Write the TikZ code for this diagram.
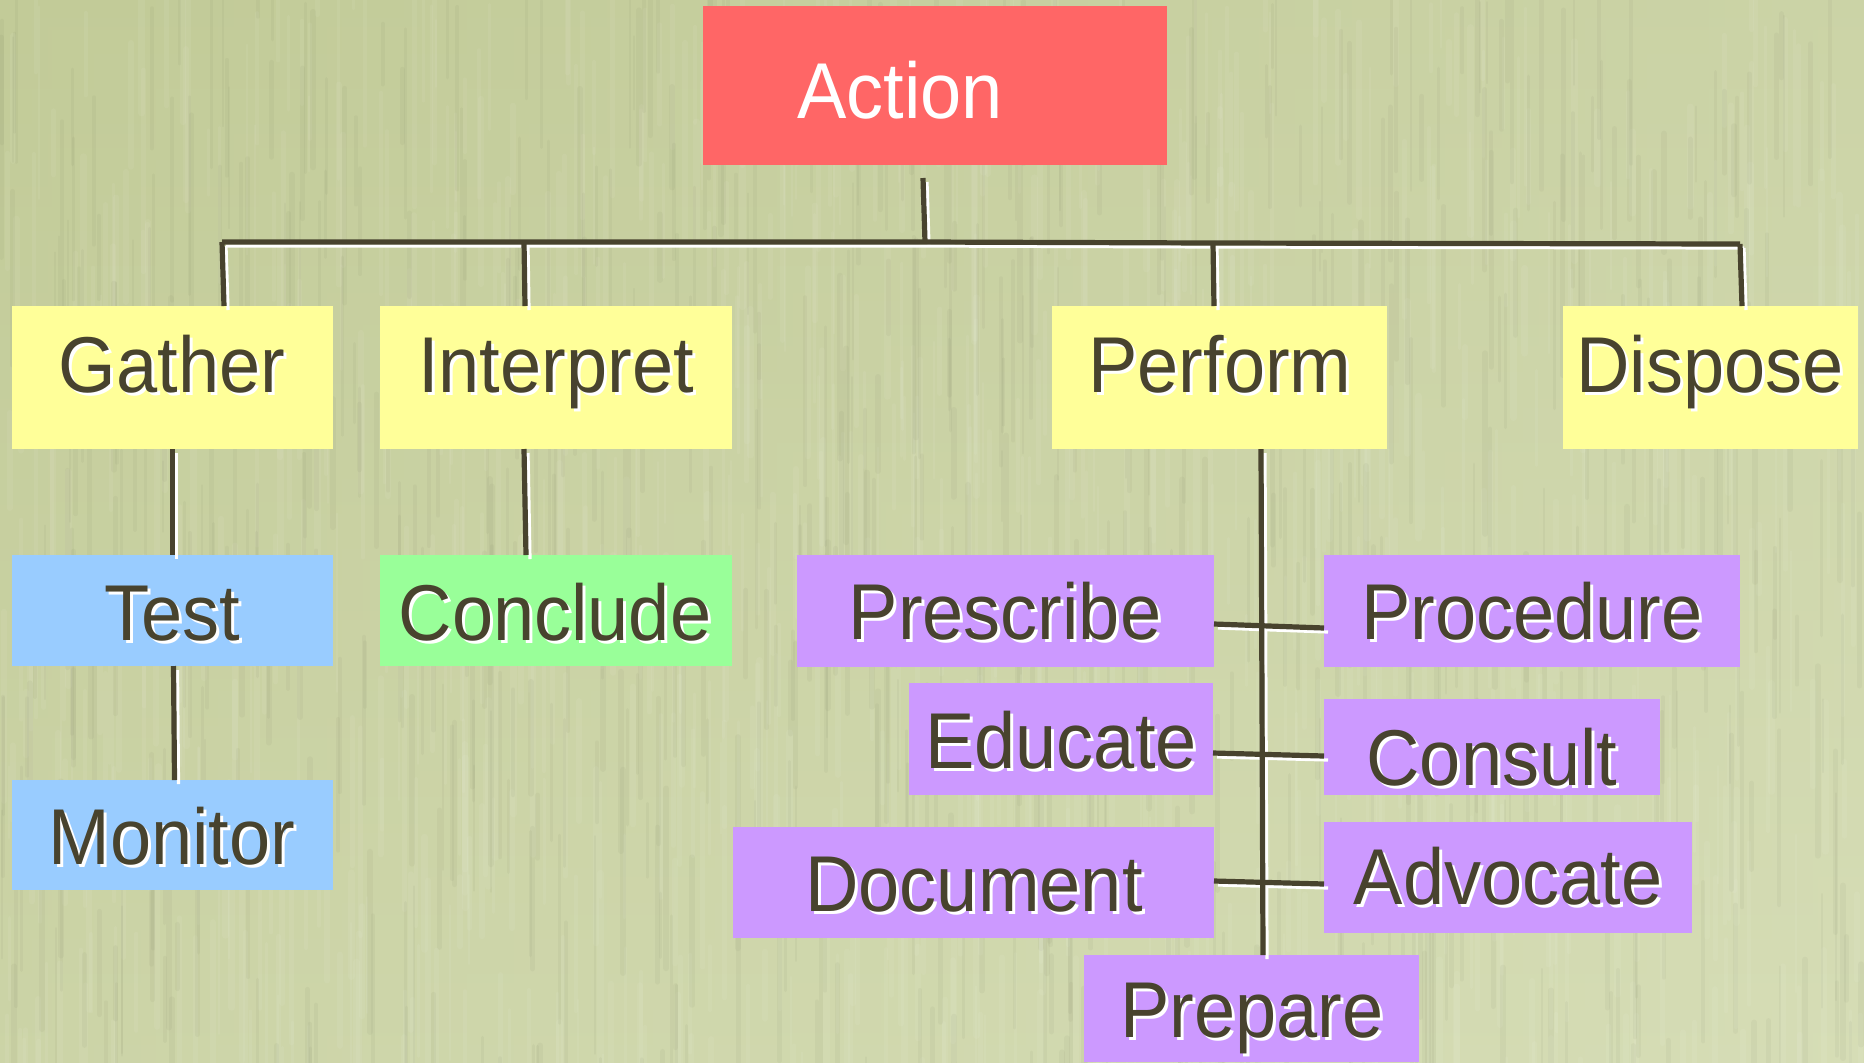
\documentclass[tikz,border=0pt]{standalone}
\usepackage{fontspec}
\setmainfont{Liberation Sans}
\usetikzlibrary{fit}
\definecolor{bgA}{HTML}{C2CB98}
\definecolor{bgB}{HTML}{D6DDB6}
\definecolor{ink}{HTML}{48432E}
\definecolor{redbox}{HTML}{FF6666}
\definecolor{ylwbox}{HTML}{FFFF99}
\definecolor{bluebox}{HTML}{99CCFF}
\definecolor{grnbox}{HTML}{99FF99}
\definecolor{purbox}{HTML}{CC99FF}
\tikzset{
  box/.style={rectangle, draw=none, inner sep=0pt, outer sep=0pt},
  lbl/.style={anchor=base, inner sep=0pt, outer sep=0pt, font=\fontsize{37}{40}\selectfont, text=ink},
  shd/.style={lbl, text=white, xshift=1.5pt, yshift=-1.5pt},
  inkline/.style={draw=ink, line width=2.6pt},
  glintline/.style={draw=white, line width=1.6pt, transform canvas={shift={(2pt,-2pt)}}},
}
\newcommand\mkbox[4]{\node[box, fill=#2, fit={#3 #4}] (#1) {};}
\newcommand\mklbl[3]{%
  \node[shd] at #2 {\scalebox{1}[1.07]{#3}};
  \node[lbl] (#1) at #2 {\scalebox{1}[1.07]{#3}};}
\newcommand\wires[1]{%
  \draw[#1] (a0) -- (a1);
  \draw[#1] (bL) -- (jI) -- (a1) -- (jP) -- (bR);
  \draw[#1] (bL) -- ([xshift=1pt]bL |- gather.north);
  \draw[#1] (jI) -- ([xshift=0.5pt]jI |- interp.north);
  \draw[#1] (jP) -- ([xshift=0.5pt]jP |- perform.north);
  \draw[#1] (bR) -- ([xshift=1pt]bR |- dispose.north);
  \draw[#1] (gather.south) -- (test.north);
  \draw[#1] ([xshift=0.5pt]test.south) -- ([xshift=1pt]monitor.north);
  \draw[#1] (interp.south -| jI) -- ([xshift=1pt]conclude.north -| jI);
  \draw[#1] (perform.south -| pv) -- ([xshift=1pt]prepare.north -| pv);
  \draw[#1] (prescribe.east |- 0,624) -- (procedure.west |- 0,628);
  \draw[#1] (educate.east |- 0,753) -- (consult.west |- 0,756);
  \draw[#1] (document.east |- 0,881) -- (advocate.west |- 0,884);
}
\begin{document}
\begin{tikzpicture}[x=0.5pt, y=-0.5pt]
  \useasboundingbox (0,0) rectangle (1864,1062);
  % background
  \shade[left color=bgA, right color=bgB] (0,0) rectangle (1864,1062);
  \shade[top color=bgA, bottom color=bgB, opacity=0.5] (0,0) rectangle (1864,1062);
  \pgfmathsetseed{7}
  \foreach \i in {1,...,900}{
    \pgfmathsetmacro\xx{rnd*1864}
    \pgfmathsetmacro\yy{-60+rnd*1120}
    \pgfmathsetmacro\ll{60+rnd*160}
    \pgfmathsetmacro\ww{1+rnd*2.5}
    \draw[white, opacity=0.06, line width=\ww pt, line cap=round] (\xx,\yy) -- ++(0,\ll);
  }
  \foreach \i in {1,...,700}{
    \pgfmathsetmacro\xx{rnd*1864}
    \pgfmathsetmacro\yy{-60+rnd*1120}
    \pgfmathsetmacro\ll{60+rnd*160}
    \pgfmathsetmacro\ww{1+rnd*2}
    \draw[black!55!bgA, opacity=0.05, line width=\ww pt, line cap=round] (\xx,\yy) -- ++(0,\ll);
  }
  % boxes
  \mkbox{action}{redbox}{(703,6)}{(1167,165)}
  \mkbox{gather}{ylwbox}{(12,306)}{(333,449)}
  \mkbox{interp}{ylwbox}{(380,306)}{(732,449)}
  \mkbox{perform}{ylwbox}{(1052,306)}{(1387,449)}
  \mkbox{dispose}{ylwbox}{(1563,306)}{(1858,449)}
  \mkbox{test}{bluebox}{(12,555)}{(333,666)}
  \mkbox{monitor}{bluebox}{(12,780)}{(333,890)}
  \mkbox{conclude}{grnbox}{(380,555)}{(732,666)}
  \mkbox{prescribe}{purbox}{(797,555)}{(1214,667)}
  \mkbox{procedure}{purbox}{(1324,555)}{(1740,667)}
  \mkbox{educate}{purbox}{(909,683)}{(1213,795)}
  \mkbox{consult}{purbox}{(1324,699)}{(1660,795)}
  \mkbox{document}{purbox}{(733,827)}{(1214,938)}
  \mkbox{advocate}{purbox}{(1324,822)}{(1692,933)}
  \mkbox{prepare}{purbox}{(1084,955)}{(1419,1062)}
  % junction coordinates
  \coordinate (a0) at (923,178);
  \coordinate (a1) at (925,242);
  \coordinate (bL) at (222,242);
  \coordinate (jI) at (524,242);
  \coordinate (jP) at (1213,243);
  \coordinate (bR) at (1740,244);
  \coordinate (pv) at (1261,0);
  % connectors
  \wires{glintline}
  \wires{inkline}
  % labels
  \node[lbl, text=white] (tAction) at (900,118) {\scalebox{1}[1.07]{Action}};
  \mklbl{tGather}{(172,392)}{Gather}
  \mklbl{tInterp}{(556,392)}{Interpret}
  \mklbl{tPerform}{(1220,392)}{Perform}
  \mklbl{tDispose}{(1710,392)}{Dispose}
  \mklbl{tTest}{(172,640)}{Test}
  \mklbl{tConclude}{(555,640)}{Conclude}
  \mklbl{tMonitor}{(172,864)}{Monitor}
  \mklbl{tPrescribe}{(1005,639)}{Prescribe}
  \mklbl{tProcedure}{(1532,639)}{Procedure}
  \mklbl{tEducate}{(1061,768)}{Educate}
  \mklbl{tConsult}{(1492,785)}{Consult}
  \mklbl{tDocument}{(974,911)}{Document}
  \mklbl{tAdvocate}{(1508,904)}{Advocate}
  \mklbl{tPrepare}{(1252,1037)}{Prepare}
\end{tikzpicture}
\end{document}
